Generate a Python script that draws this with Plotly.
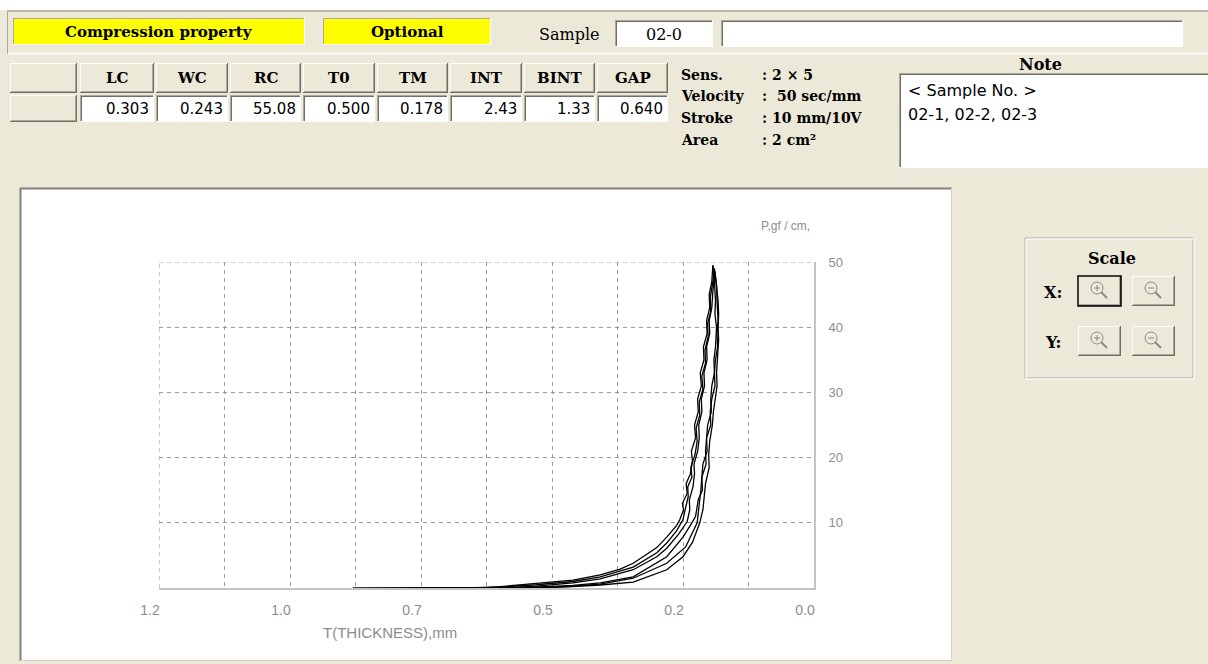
import plotly.graph_objects as go

# ---------------- data ----------------
x_tick_vals = [0.0, 0.125, 0.25, 0.375, 0.5, 0.625, 0.75, 0.875, 1.0, 1.125, 1.25]
x_tick_text = ["0.0", "", "0.2", "", "0.5", "", "0.7", "", "1.0", "", "1.2"]
y_tick_vals = [10, 20, 30, 40, 50]
y_tick_text = ["10", "20", "30", "40", "50"]
x_range = [1.25, 0.0]
y_range = [0, 50]

# compression (loading) curves: thickness T (mm), pressure P (gf/cm2)
load1_T = [0.880, 0.700, 0.620, 0.586, 0.523, 0.460, 0.408, 0.370, 0.345, 0.300, 0.281, 0.262,
           0.256, 0.249, 0.251, 0.242, 0.244, 0.236, 0.232, 0.234, 0.226, 0.228, 0.221, 0.222,
           0.215, 0.217, 0.210, 0.211, 0.204, 0.205, 0.199, 0.200, 0.195, 0.193]
load1_P = [0.0, 0.0, 0.1, 0.3, 0.7, 1.2, 2.0, 2.9, 3.8, 6.2, 7.8, 9.6,
           10.5, 12.0, 13.0, 14.5, 16.0, 17.5, 19.5, 21.0, 23.0, 25.0, 27.0, 29.0,
           31.0, 33.0, 35.0, 37.0, 39.0, 41.0, 43.0, 45.0, 47.0, 49.5]
load2_T = [0.662, 0.600, 0.530, 0.460, 0.408, 0.345, 0.300, 0.281, 0.262,
           0.250, 0.246, 0.240, 0.241, 0.233, 0.235, 0.227, 0.223, 0.225, 0.218, 0.219,
           0.212, 0.214, 0.207, 0.208, 0.202, 0.203, 0.197, 0.198, 0.193, 0.190]
load2_P = [0.0, 0.15, 0.5, 1.0, 1.7, 3.2, 5.4, 6.9, 8.8,
           10.5, 12.0, 14.0, 15.5, 17.0, 18.5, 20.5, 22.5, 24.5, 26.5, 28.5,
           30.5, 32.5, 34.5, 36.5, 38.5, 40.5, 42.5, 44.5, 47.0, 49.0]
load3_T = [0.594, 0.530, 0.460, 0.408, 0.345, 0.300, 0.281, 0.258,
           0.242, 0.237, 0.238, 0.231, 0.228, 0.229, 0.222, 0.219, 0.220, 0.214, 0.215,
           0.209, 0.210, 0.204, 0.205, 0.199, 0.200, 0.195, 0.193, 0.189]
load3_P = [0.0, 0.3, 0.8, 1.4, 2.8, 4.8, 6.1, 8.3,
           10.2, 12.0, 13.5, 15.5, 17.5, 19.0, 21.0, 23.0, 25.0, 27.0, 29.0,
           31.0, 33.0, 35.0, 37.0, 39.0, 41.0, 43.0, 45.5, 48.5]

# recovery (unloading) curves
unload1_T = [0.193, 0.190, 0.188, 0.189, 0.186, 0.188, 0.191, 0.190, 0.195, 0.197, 0.196, 0.203,
             0.205, 0.204, 0.212, 0.214, 0.213, 0.221, 0.224, 0.226, 0.233, 0.250, 0.281, 0.345,
             0.408, 0.460, 0.520, 0.580, 0.620]
unload1_P = [49.5, 47.0, 44.0, 42.0, 40.0, 37.0, 35.0, 33.0, 31.0, 29.0, 27.0, 25.0,
             23.0, 21.0, 19.0, 17.0, 15.0, 13.5, 12.0, 11.0, 10.0, 7.8, 4.8, 1.7,
             0.77, 0.40, 0.15, 0.05, 0.0]
unload2_T = [0.190, 0.186, 0.185, 0.183, 0.185, 0.184, 0.188, 0.190, 0.189, 0.195, 0.198, 0.197,
             0.205, 0.207, 0.206, 0.214, 0.216, 0.219, 0.223, 0.245, 0.281, 0.345, 0.408, 0.470,
             0.550, 0.600]
unload2_P = [49.0, 46.5, 44.0, 41.0, 39.0, 37.0, 35.0, 33.0, 31.0, 29.0, 27.0, 25.0,
             23.0, 21.0, 19.0, 17.0, 15.0, 13.0, 10.0, 6.3, 3.8, 1.5, 0.6, 0.25,
             0.05, 0.0]
unload3_T = [0.189, 0.185, 0.183, 0.182, 0.183, 0.182, 0.184, 0.186, 0.185, 0.189, 0.192, 0.194,
             0.199, 0.201, 0.200, 0.207, 0.210, 0.212, 0.218, 0.232, 0.250, 0.281, 0.345, 0.408,
             0.480, 0.560, 0.660]
unload3_P = [48.5, 46.0, 44.0, 42.0, 40.0, 38.0, 35.0, 33.0, 31.0, 29.0, 27.0, 25.0,
             22.5, 20.5, 18.5, 16.0, 14.0, 12.0, 10.0, 7.0, 4.8, 2.8, 0.9, 0.46,
             0.15, 0.0, 0.0]

table_headers = ["", "LC", "WC", "RC", "T0", "TM", "INT", "BINT", "GAP"]
table_values = ["", "0.303", "0.243", "55.08", "0.500", "0.178", "2.43", "1.33", "0.640"]

info_labels = ["Sens.", "Velocity", "Stroke", "Area"]
info_values = [": 2 × 5", ":  50 sec/mm", ": 10 mm/10V", ": 2 cm²"]
note_lines = ["< Sample No. >", "02-1, 02-2, 02-3"]

# ---------------- layout helpers ----------------
W, H = 1208, 664
L, R, T, B = 159, 814, 262, 588
BEIGE = "#ECE9D8"
DARK = "#ACA899"
DARKER = "#716F64"
SERIF = "DejaVu Serif"
SANS = "DejaVu Sans"
AXSANS = "Liberation Sans"
GRID = "#9A9A9A"


def px(x):
    return (x - L) / (R - L)


def py(y):
    return (B - y) / (B - T)


shapes = []
annotations = []


def rect(x0, y0, x1, y1, fill, line=None, lw=0, layer="above"):
    shapes.append(dict(type="rect", xref="paper", yref="paper",
                       x0=px(x0), x1=px(x1), y0=py(y1), y1=py(y0),
                       fillcolor=fill, layer=layer,
                       line=dict(width=lw, color=line or fill)))


def hline(x0, x1, y, color, w=1, layer="above"):
    shapes.append(dict(type="line", xref="paper", yref="paper",
                       x0=px(x0), x1=px(x1), y0=py(y), y1=py(y), layer=layer,
                       line=dict(color=color, width=w)))


def vline(x, y0, y1, color, w=1, layer="above"):
    shapes.append(dict(type="line", xref="paper", yref="paper",
                       x0=px(x), x1=px(x), y0=py(y0), y1=py(y1), layer=layer,
                       line=dict(color=color, width=w)))


def sunken(x0, y0, x1, y1, fill="white"):
    rect(x0, y0, x1, y1, fill)
    hline(x0, x1, y0 + 0.5, DARK, 1)
    vline(x0 + 0.5, y0, y1, DARK, 1)
    hline(x0 + 1, x1 - 1, y0 + 1.5, DARKER, 1)
    vline(x0 + 1.5, y0 + 1, y1 - 1, DARKER, 1)
    hline(x0, x1, y1 - 0.5, "#FFFFFF", 1)
    vline(x1 - 0.5, y0, y1, "#FFFFFF", 1)


def raised(x0, y0, x1, y1, fill=BEIGE, dark_border=False):
    rect(x0, y0, x1, y1, fill)
    hline(x0, x1, y0 + 0.5, "#FFFFFF", 1)
    vline(x0 + 0.5, y0, y1, "#FFFFFF", 1)
    hline(x0, x1, y1 - 0.5, DARKER, 1)
    vline(x1 - 0.5, y0, y1, DARKER, 1)
    hline(x0 + 1, x1 - 1, y1 - 1.5, DARK, 1)
    vline(x1 - 1.5, y0 + 1, y1 - 1, DARK, 1)
    if dark_border:
        rect(x0, y0, x1, y1, "rgba(0,0,0,0)", "#000000", 1.5)


def text(x, y, s, size=15, family=SERIF, bold=False, color="#000000", xanchor="left"):
    if bold:
        s = "<b>" + s + "</b>"
    annotations.append(dict(xref="paper", yref="paper", x=px(x), y=py(y), text=s,
                            showarrow=False, xanchor=xanchor, yanchor="middle",
                            font=dict(family=family, size=size, color=color)))


# ---------------- top bar ----------------
rect(0, 0, W, 10, "#FFFFFF")
hline(7, W, 11, DARK, 1.5)
hline(7, W, 53.5, "#FFFFFF", 1.5)
vline(7.5, 11, 54, DARK, 1)

for (x0, x1, label) in [(13, 305, "Compression property"), (323, 491, "Optional")]:
    rect(x0, 18, x1, 45, "#FFFF00")
    hline(x0, x1, 18.5, DARK, 1)
    vline(x0 + 0.5, 18, 45, DARK, 1)
    hline(x0, x1, 44.5, "#FFFFFF", 1)
    vline(x1 - 0.5, 18, 45, "#FFFFFF", 1)
    text((x0 + x1) / 2, 32, label, size=15, bold=True, xanchor="center")

text(569, 34, "Sample", size=16, xanchor="center")
sunken(615, 20, 713, 47)
text(664, 34, "02-0", size=16, xanchor="center")
sunken(721, 20, 1183, 47)

# ---------------- table ----------------
col_left = [10, 80, 156, 230, 303, 377, 450, 524, 597]
col_right = [77, 154, 228, 301, 375, 448, 522, 595, 668]
for i in range(len(table_headers)):
    x0, x1 = col_left[i], col_right[i]
    raised(x0, 63, x1, 93)
    if table_headers[i]:
        text((x0 + x1) / 2, 78, table_headers[i], size=15, bold=True, xanchor="center")
    if i == 0:
        raised(x0, 95, x1, 122)
    else:
        sunken(x0, 95, x1, 122)
        text(x1 - 3, 109, table_values[i], size=15, family=SANS, xanchor="right")

for k, (lab, val) in enumerate(zip(info_labels, info_values)):
    yy = 75 + k * 21.5
    text(679, yy, lab, size=14, bold=True)
    text(760, yy, val, size=14, bold=True)

text(1040, 65, "Note", size=16, bold=True, xanchor="center")
sunken(899, 73, 1210, 168)
for k, s in enumerate(note_lines):
    text(906, 91 + k * 24, s, size=16, family=SANS)

# ---------------- chart panel ----------------
rect(20, 188, 952, 661, "#FFFFFF", layer="below")
hline(20, 952, 188.5, "#808080", 2, layer="below")
vline(20.5, 188, 661, "#808080", 2, layer="below")
hline(20, 952, 660.5, "#D4D0C8", 1, layer="below")
vline(951.5, 188, 661, "#D4D0C8", 1, layer="below")

# grid lines on the plot edges (not drawn automatically by plotly)
shapes.append(dict(type="line", xref="x", yref="paper", x0=x_range[0], x1=x_range[0], y0=0, y1=1,
                   layer="below", line=dict(color=GRID, width=1, dash="4px,4px")))
shapes.append(dict(type="line", xref="paper", yref="y", x0=0, x1=1, y0=y_range[1], y1=y_range[1],
                   layer="below", line=dict(color=GRID, width=1, dash="4px,4px")))

text(785, 226, "P,gf / cm,", size=12, family=AXSANS, color="#8C8C8C", xanchor="center")
text(390, 632, "T(THICKNESS),mm", size=15, family=AXSANS, color="#8C8C8C", xanchor="center")

# ---------------- scale box ----------------
rect(1025, 238, 1193, 378, "rgba(0,0,0,0)", DARK, 1)
rect(1026, 239, 1194, 379, "rgba(0,0,0,0)", "#FFFFFF", 1)
text(1112, 258, "Scale", size=16, bold=True, xanchor="center")
text(1053, 292, "X:", size=16, bold=True, xanchor="center")
text(1053, 342, "Y:", size=16, bold=True, xanchor="center")
for (bx, by, plus, dark) in [(1078, 276, True, True), (1132, 276, False, False),
                             (1078, 326, True, False), (1132, 326, False, False)]:
    raised(bx, by, bx + 43, by + 30, dark_border=dark)
    cx, cy = bx + 19, by + 12
    shapes.append(dict(type="circle", xref="paper", yref="paper",
                       x0=px(cx - 6), x1=px(cx + 6), y0=py(cy + 6), y1=py(cy - 6),
                       line=dict(color="#8A8A8A", width=1)))
    shapes.append(dict(type="line", xref="paper", yref="paper",
                       x0=px(cx + 4), x1=px(cx + 10), y0=py(cy + 4), y1=py(cy + 10),
                       line=dict(color="#8A8A8A", width=2)))
    hline(cx - 3, cx + 3, cy, "#8A8A8A", 1)
    if plus:
        vline(cx, cy - 3, cy + 3, "#8A8A8A", 1)

# ---------------- figure ----------------
fig = go.Figure()
curves = [(load1_T, load1_P), (load2_T, load2_P), (load3_T, load3_P),
          (unload1_T, unload1_P), (unload2_T, unload2_P), (unload3_T, unload3_P)]
for tx, ty in curves:
    fig.add_trace(go.Scatter(x=tx, y=ty, mode="lines",
                             line=dict(color="#000000", width=1.3),
                             showlegend=False, hoverinfo="skip"))

fig.update_layout(
    width=W, height=H, autosize=False,
    margin=dict(l=L, r=W - R, t=T, b=H - B, pad=0),
    paper_bgcolor=BEIGE, plot_bgcolor="rgba(0,0,0,0)",
    shapes=shapes, annotations=annotations,
    xaxis=dict(range=x_range, tickvals=x_tick_vals, ticktext=x_tick_text,
               showgrid=True, gridcolor=GRID, gridwidth=1, griddash="4px,4px",
               zeroline=False, showline=True, linecolor="#C4C4C4", linewidth=2,
               ticks="", ticklabelstandoff=8, ticklabelshift=9,
               tickfont=dict(family=AXSANS, size=14, color="#8C8C8C")),
    yaxis=dict(range=y_range, tickvals=y_tick_vals, ticktext=y_tick_text, side="right",
               showgrid=True, gridcolor=GRID, gridwidth=1, griddash="4px,4px",
               zeroline=False, showline=True, linecolor="#C4C4C4", linewidth=2,
               ticks="", ticklabelstandoff=10,
               tickfont=dict(family=AXSANS, size=13, color="#8C8C8C")),
)

fig.write_html("out.html")
